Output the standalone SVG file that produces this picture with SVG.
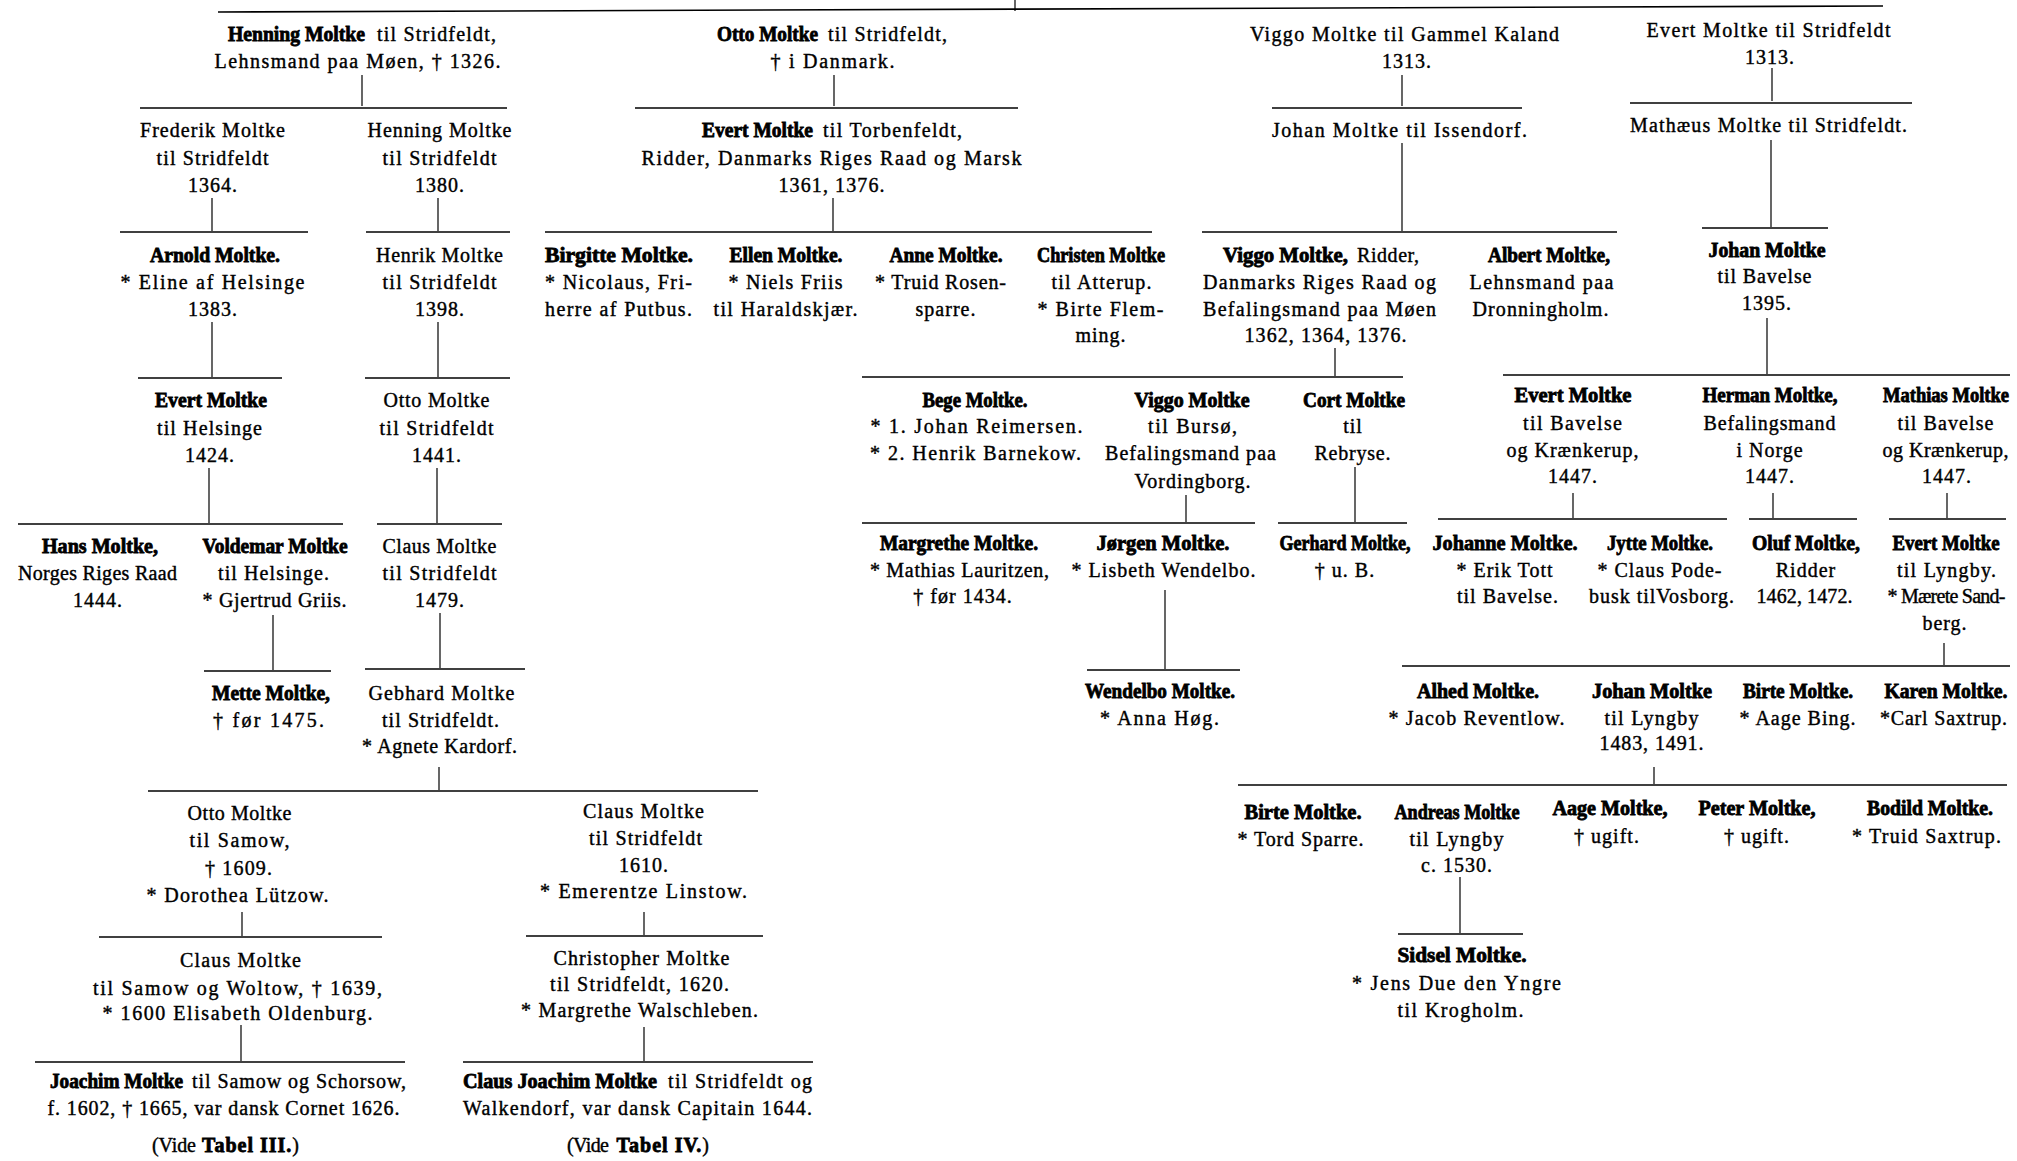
<svg xmlns="http://www.w3.org/2000/svg" width="2017" height="1161" viewBox="0 0 2017 1161">
<style>
text { font-family: "Liberation Serif", "Times New Roman", serif; font-size: 20px; fill: #000; }
.r { letter-spacing: 1px; stroke: #000; stroke-width: 0.4px; }
.b { font-weight: bold; stroke: #000; stroke-width: 0.8px; }
.c { text-anchor: middle; }
.e { text-anchor: end; }
.h { stroke: #000; stroke-width: 1.6; }
.v { stroke: #000; stroke-width: 1.2; }
</style>
<rect width="2017" height="1161" fill="#fff"/>
<g id="connectors">
<line class="h" x1="218" y1="12" x2="1883" y2="6"/><line class="v" x1="1015" y1="0" x2="1015" y2="11"/>
<line class="v" x1="362" y1="75" x2="362" y2="106"/><line class="h" x1="140" y1="108" x2="507" y2="108"/>
<line class="v" x1="834" y1="75" x2="834" y2="106"/><line class="h" x1="635" y1="108" x2="1018" y2="108"/>
<line class="v" x1="1402" y1="75" x2="1402" y2="106"/><line class="h" x1="1272" y1="108" x2="1522" y2="108"/>
<line class="v" x1="1772" y1="68" x2="1772" y2="101"/><line class="h" x1="1630" y1="103" x2="1912" y2="103"/>
<line class="v" x1="212" y1="198" x2="212" y2="231"/><line class="h" x1="120" y1="232" x2="308" y2="232"/>
<line class="v" x1="438" y1="198" x2="438" y2="231"/><line class="h" x1="366" y1="232" x2="510" y2="232"/>
<line class="v" x1="833" y1="198" x2="833" y2="231"/><line class="h" x1="545" y1="232" x2="1152" y2="232"/>
<line class="v" x1="1402" y1="143" x2="1402" y2="231"/><line class="h" x1="1202" y1="232" x2="1617" y2="232"/>
<line class="v" x1="1771" y1="140" x2="1771" y2="227"/><line class="h" x1="1702" y1="228" x2="1828" y2="228"/>
<line class="v" x1="212" y1="322" x2="212" y2="377"/><line class="h" x1="138" y1="378" x2="282" y2="378"/>
<line class="v" x1="438" y1="322" x2="438" y2="377"/><line class="h" x1="365" y1="378" x2="510" y2="378"/>
<line class="v" x1="1335" y1="348" x2="1335" y2="376"/><line class="h" x1="862" y1="377" x2="1403" y2="377"/>
<line class="v" x1="1767" y1="318" x2="1767" y2="374"/><line class="h" x1="1503" y1="375" x2="2010" y2="375"/>
<line class="v" x1="209" y1="468" x2="209" y2="523"/><line class="h" x1="18" y1="524" x2="343" y2="524"/>
<line class="v" x1="437" y1="468" x2="437" y2="523"/><line class="h" x1="377" y1="524" x2="502" y2="524"/>
<line class="v" x1="1186" y1="495" x2="1186" y2="522"/><line class="h" x1="862" y1="523" x2="1255" y2="523"/>
<line class="v" x1="1355" y1="467" x2="1355" y2="522"/><line class="h" x1="1278" y1="523" x2="1407" y2="523"/>
<line class="v" x1="1573" y1="493" x2="1573" y2="518"/><line class="h" x1="1438" y1="519" x2="1727" y2="519"/>
<line class="v" x1="1773" y1="493" x2="1773" y2="518"/><line class="h" x1="1749" y1="519" x2="1857" y2="519"/>
<line class="v" x1="1947" y1="493" x2="1947" y2="518"/><line class="h" x1="1889" y1="519" x2="2006" y2="519"/>
<line class="v" x1="273" y1="615" x2="273" y2="670"/><line class="h" x1="204" y1="671" x2="331" y2="671"/>
<line class="v" x1="440" y1="613" x2="440" y2="668"/><line class="h" x1="365" y1="669" x2="525" y2="669"/>
<line class="v" x1="1165" y1="590" x2="1165" y2="669"/><line class="h" x1="1087" y1="670" x2="1240" y2="670"/>
<line class="v" x1="1944" y1="643" x2="1944" y2="665"/><line class="h" x1="1402" y1="666" x2="2010" y2="666"/>
<line class="v" x1="439" y1="767" x2="439" y2="790"/><line class="h" x1="148" y1="791" x2="758" y2="791"/>
<line class="v" x1="1654" y1="767" x2="1654" y2="784"/><line class="h" x1="1238" y1="785" x2="2007" y2="785"/>
<line class="v" x1="242" y1="912" x2="242" y2="936"/><line class="h" x1="99" y1="937" x2="382" y2="937"/>
<line class="v" x1="644" y1="912" x2="644" y2="935"/><line class="h" x1="526" y1="936" x2="763" y2="936"/>
<line class="v" x1="1460" y1="877" x2="1460" y2="933"/><line class="h" x1="1398" y1="934" x2="1523" y2="934"/>
<line class="v" x1="241" y1="1025" x2="241" y2="1061"/><line class="h" x1="35" y1="1062" x2="405" y2="1062"/>
<line class="v" x1="644" y1="1027" x2="644" y2="1061"/><line class="h" x1="463" y1="1062" x2="813" y2="1062"/>
</g>

<g id="n-henning-1326">
<text class="b" x="228" y="41" textLength="137" lengthAdjust="spacingAndGlyphs">Henning Moltke</text>
<text class="r e" x="497" y="41" textLength="120">til Stridfeldt,</text>
<text class="r c" x="358" y="68" textLength="287">Lehnsmand paa Møen, † 1326.</text>
</g>
<g id="n-otto-danmark">
<text class="b" x="717" y="41" textLength="101" lengthAdjust="spacingAndGlyphs">Otto Moltke</text>
<text class="r e" x="948" y="41" textLength="120">til Stridfeldt,</text>
<text class="r c" x="833" y="68" textLength="125">† i Danmark.</text>
</g>
<g id="n-viggo-kaland">
<text class="r c" x="1405" y="41" textLength="310">Viggo Moltke til Gammel Kaland</text>
<text class="r c" x="1407" y="68">1313.</text>
</g>
<g id="n-evert-1313">
<text class="r c" x="1769" y="37" textLength="245">Evert Moltke til Stridfeldt</text>
<text class="r c" x="1770" y="64">1313.</text>
</g>

<g id="n-frederik">
<text class="r c" x="213" y="137" textLength="146">Frederik Moltke</text>
<text class="r c" x="213" y="165" textLength="113">til Stridfeldt</text>
<text class="r c" x="213" y="192">1364.</text>
</g>
<g id="n-henning-1380">
<text class="r c" x="440" y="137" textLength="145">Henning Moltke</text>
<text class="r c" x="440" y="165" textLength="115">til Stridfeldt</text>
<text class="r c" x="440" y="192">1380.</text>
</g>
<g id="n-evert-torbenfeldt">
<text class="b" x="702" y="137" textLength="111" lengthAdjust="spacingAndGlyphs">Evert Moltke</text>
<text class="r e" x="963" y="137" textLength="140">til Torbenfeldt,</text>
<text class="r c" x="832" y="165" textLength="381">Ridder, Danmarks Riges Raad og Marsk</text>
<text class="r c" x="832" y="192" textLength="107">1361, 1376.</text>
</g>
<g id="n-johan-issendorf">
<text class="r c" x="1400" y="137" textLength="256">Johan Moltke til Issendorf.</text>
</g>
<g id="n-mathaeus">
<text class="r c" x="1769" y="132" textLength="278">Mathæus Moltke til Stridfeldt.</text>
</g>

<g id="n-arnold">
<text class="b c" x="215" y="262" textLength="130" lengthAdjust="spacingAndGlyphs">Arnold Moltke.</text>
<text class="r c" x="213" y="289" textLength="185">* Eline af Helsinge</text>
<text class="r c" x="213" y="316">1383.</text>
</g>
<g id="n-henrik">
<text class="r c" x="440" y="262" textLength="128">Henrik Moltke</text>
<text class="r c" x="440" y="289" textLength="115">til Stridfeldt</text>
<text class="r c" x="440" y="316">1398.</text>
</g>
<g id="n-birgitte">
<text class="b c" x="619" y="262" textLength="148" lengthAdjust="spacingAndGlyphs">Birgitte Moltke.</text>
<text class="r c" x="619" y="289" textLength="148">* Nicolaus, Fri-</text>
<text class="r c" x="619" y="316" textLength="148">herre af Putbus.</text>
</g>
<g id="n-ellen">
<text class="b c" x="786" y="262" textLength="113" lengthAdjust="spacingAndGlyphs">Ellen Moltke.</text>
<text class="r c" x="786" y="289" textLength="115">* Niels Friis</text>
<text class="r c" x="786" y="316" textLength="145">til Haraldskjær.</text>
</g>
<g id="n-anne">
<text class="b c" x="946" y="262" textLength="113" lengthAdjust="spacingAndGlyphs">Anne Moltke.</text>
<text class="r c" x="941" y="289" textLength="132">* Truid Rosen-</text>
<text class="r c" x="946" y="316">sparre.</text>
</g>
<g id="n-christen">
<text class="b c" x="1101" y="262" textLength="128" lengthAdjust="spacingAndGlyphs">Christen Moltke</text>
<text class="r c" x="1102" y="289" textLength="101">til Atterup.</text>
<text class="r c" x="1101" y="316" textLength="127">* Birte Flem-</text>
<text class="r c" x="1101" y="342">ming.</text>
</g>
<g id="n-viggo-ridder">
<text class="b" x="1223" y="262" textLength="125" lengthAdjust="spacingAndGlyphs">Viggo Moltke,</text>
<text class="r e" x="1420" y="262" textLength="63">Ridder,</text>
<text class="r c" x="1320" y="289" textLength="234">Danmarks Riges Raad og</text>
<text class="r c" x="1320" y="316" textLength="234">Befalingsmand paa Møen</text>
<text class="r c" x="1326" y="342" textLength="163">1362, 1364, 1376.</text>
</g>
<g id="n-albert">
<text class="b c" x="1549" y="262" textLength="122" lengthAdjust="spacingAndGlyphs">Albert Moltke,</text>
<text class="r c" x="1542" y="289" textLength="145">Lehnsmand paa</text>
<text class="r c" x="1541" y="316" textLength="137">Dronningholm.</text>
</g>
<g id="n-johan-bavelse">
<text class="b c" x="1767" y="257" textLength="117" lengthAdjust="spacingAndGlyphs">Johan Moltke</text>
<text class="r c" x="1765" y="283" textLength="95">til Bavelse</text>
<text class="r c" x="1767" y="310">1395.</text>
</g>

<g id="n-evert-helsinge">
<text class="b c" x="211" y="407" textLength="112" lengthAdjust="spacingAndGlyphs">Evert Moltke</text>
<text class="r c" x="210" y="435" textLength="106">til Helsinge</text>
<text class="r c" x="210" y="462">1424.</text>
</g>
<g id="n-otto-1441">
<text class="r c" x="437" y="407" textLength="107">Otto Moltke</text>
<text class="r c" x="437" y="435" textLength="115">til Stridfeldt</text>
<text class="r c" x="437" y="462">1441.</text>
</g>
<g id="n-bege">
<text class="b c" x="975" y="407" textLength="105" lengthAdjust="spacingAndGlyphs">Bege Moltke.</text>
<text class="r c" x="977" y="433" textLength="213">* 1. Johan Reimersen.</text>
<text class="r c" x="976" y="460" textLength="212">* 2. Henrik Barnekow.</text>
</g>
<g id="n-viggo-burso">
<text class="b c" x="1192" y="407" textLength="115" lengthAdjust="spacingAndGlyphs">Viggo Moltke</text>
<text class="r c" x="1193" y="433" textLength="90">til Bursø,</text>
<text class="r c" x="1191" y="460" textLength="172">Befalingsmand paa</text>
<text class="r c" x="1193" y="488" textLength="117">Vordingborg.</text>
</g>
<g id="n-cort">
<text class="b c" x="1354" y="407" textLength="102" lengthAdjust="spacingAndGlyphs">Cort Moltke</text>
<text class="r c" x="1353" y="433">til</text>
<text class="r c" x="1353" y="460" textLength="77">Rebryse.</text>
</g>
<g id="n-evert-bavelse">
<text class="b c" x="1573" y="402" textLength="117" lengthAdjust="spacingAndGlyphs">Evert Moltke</text>
<text class="r c" x="1573" y="430" textLength="100">til Bavelse</text>
<text class="r c" x="1573" y="457" textLength="133">og Krænkerup,</text>
<text class="r c" x="1573" y="483">1447.</text>
</g>
<g id="n-herman">
<text class="b c" x="1770" y="402" textLength="135" lengthAdjust="spacingAndGlyphs">Herman Moltke,</text>
<text class="r c" x="1770" y="430" textLength="133">Befalingsmand</text>
<text class="r c" x="1770" y="457">i Norge</text>
<text class="r c" x="1770" y="483">1447.</text>
</g>
<g id="n-mathias">
<text class="b c" x="1946" y="402" textLength="126" lengthAdjust="spacingAndGlyphs">Mathias Moltke</text>
<text class="r c" x="1946" y="430" textLength="97">til Bavelse</text>
<text class="r c" x="1946" y="457" textLength="127">og Krænkerup,</text>
<text class="r c" x="1947" y="483">1447.</text>
</g>

<g id="n-hans">
<text class="b c" x="100" y="553" textLength="116" lengthAdjust="spacingAndGlyphs">Hans Moltke,</text>
<text class="r c" x="98" y="580" textLength="160">Norges Riges Raad</text>
<text class="r c" x="98" y="607">1444.</text>
</g>
<g id="n-voldemar">
<text class="b c" x="275" y="553" textLength="145" lengthAdjust="spacingAndGlyphs">Voldemar Moltke</text>
<text class="r c" x="274" y="580" textLength="112">til Helsinge.</text>
<text class="r c" x="275" y="607" textLength="145">* Gjertrud Griis.</text>
</g>
<g id="n-claus-1479">
<text class="r c" x="440" y="553" textLength="115">Claus Moltke</text>
<text class="r c" x="440" y="580" textLength="115">til Stridfeldt</text>
<text class="r c" x="440" y="607">1479.</text>
</g>
<g id="n-margrethe">
<text class="b c" x="959" y="550" textLength="158" lengthAdjust="spacingAndGlyphs">Margrethe Moltke.</text>
<text class="r c" x="960" y="577" textLength="180">* Mathias Lauritzen,</text>
<text class="r c" x="963" y="603">† før 1434.</text>
</g>
<g id="n-jorgen">
<text class="b c" x="1163" y="550" textLength="133" lengthAdjust="spacingAndGlyphs">Jørgen Moltke.</text>
<text class="r c" x="1164" y="577" textLength="185">* Lisbeth Wendelbo.</text>
</g>
<g id="n-gerhard">
<text class="b c" x="1345" y="550" textLength="131" lengthAdjust="spacingAndGlyphs">Gerhard Moltke,</text>
<text class="r c" x="1345" y="577">† u. B.</text>
</g>
<g id="n-johanne">
<text class="b c" x="1505" y="550" textLength="145" lengthAdjust="spacingAndGlyphs">Johanne Moltke.</text>
<text class="r c" x="1505" y="577">* Erik Tott</text>
<text class="r c" x="1508" y="603">til Bavelse.</text>
</g>
<g id="n-jytte">
<text class="b c" x="1660" y="550" textLength="106" lengthAdjust="spacingAndGlyphs">Jytte Moltke.</text>
<text class="r c" x="1660" y="577" textLength="125">* Claus Pode-</text>
<text class="r c" x="1662" y="603" textLength="146">busk tilVosborg.</text>
</g>
<g id="n-oluf">
<text class="b c" x="1806" y="550" textLength="108" lengthAdjust="spacingAndGlyphs">Oluf Moltke,</text>
<text class="r c" x="1806" y="577">Ridder</text>
<text class="r c" x="1805" y="603" textLength="97">1462, 1472.</text>
</g>
<g id="n-evert-lyngby">
<text class="b c" x="1946" y="550" textLength="107" lengthAdjust="spacingAndGlyphs">Evert Moltke</text>
<text class="r c" x="1947" y="577" textLength="100">til Lyngby.</text>
<text class="r c" x="1947" y="603" textLength="119">* Mærete Sand-</text>
<text class="r c" x="1945" y="630">berg.</text>
</g>

<g id="n-mette">
<text class="b c" x="271" y="700" textLength="118" lengthAdjust="spacingAndGlyphs">Mette Moltke,</text>
<text class="r c" x="269" y="727" textLength="112">† før 1475.</text>
</g>
<g id="n-gebhard">
<text class="r c" x="442" y="700" textLength="147">Gebhard Moltke</text>
<text class="r c" x="441" y="727" textLength="118">til Stridfeldt.</text>
<text class="r c" x="440" y="753" textLength="156">* Agnete Kardorf.</text>
</g>
<g id="n-wendelbo">
<text class="b c" x="1160" y="698" textLength="150" lengthAdjust="spacingAndGlyphs">Wendelbo Moltke.</text>
<text class="r c" x="1160" y="725" textLength="120">* Anna Høg.</text>
</g>
<g id="n-alhed">
<text class="b c" x="1478" y="698" textLength="122" lengthAdjust="spacingAndGlyphs">Alhed Moltke.</text>
<text class="r c" x="1477" y="725" textLength="177">* Jacob Reventlow.</text>
</g>
<g id="n-johan-lyngby">
<text class="b c" x="1652" y="698" textLength="120" lengthAdjust="spacingAndGlyphs">Johan Moltke</text>
<text class="r c" x="1652" y="725" textLength="95">til Lyngby</text>
<text class="r c" x="1652" y="750" textLength="105">1483, 1491.</text>
</g>
<g id="n-birte-bing">
<text class="b c" x="1798" y="698" textLength="110" lengthAdjust="spacingAndGlyphs">Birte Moltke.</text>
<text class="r c" x="1798" y="725" textLength="117">* Aage Bing.</text>
</g>
<g id="n-karen">
<text class="b c" x="1946" y="698" textLength="123" lengthAdjust="spacingAndGlyphs">Karen Moltke.</text>
<text class="r c" x="1944" y="725" textLength="128">*Carl Saxtrup.</text>
</g>

<g id="n-otto-samow">
<text class="r c" x="240" y="820" textLength="105">Otto Moltke</text>
<text class="r c" x="240" y="847" textLength="101">til Samow,</text>
<text class="r c" x="239" y="875" textLength="68">† 1609.</text>
<text class="r c" x="238" y="902" textLength="183">* Dorothea Lützow.</text>
</g>
<g id="n-claus-1610">
<text class="r c" x="644" y="818" textLength="122">Claus Moltke</text>
<text class="r c" x="646" y="845" textLength="114">til Stridfeldt</text>
<text class="r c" x="644" y="872">1610.</text>
<text class="r c" x="644" y="898" textLength="208">* Emerentze Linstow.</text>
</g>
<g id="n-birte-sparre">
<text class="b c" x="1303" y="819" textLength="117" lengthAdjust="spacingAndGlyphs">Birte Moltke.</text>
<text class="r c" x="1301" y="846" textLength="127">* Tord Sparre.</text>
</g>
<g id="n-andreas">
<text class="b c" x="1457" y="819" textLength="125" lengthAdjust="spacingAndGlyphs">Andreas Moltke</text>
<text class="r c" x="1457" y="846" textLength="95">til Lyngby</text>
<text class="r c" x="1457" y="872">c. 1530.</text>
</g>
<g id="n-aage">
<text class="b c" x="1610" y="815" textLength="115" lengthAdjust="spacingAndGlyphs">Aage Moltke,</text>
<text class="r c" x="1607" y="843">† ugift.</text>
</g>
<g id="n-peter">
<text class="b c" x="1757" y="815" textLength="117" lengthAdjust="spacingAndGlyphs">Peter Moltke,</text>
<text class="r c" x="1757" y="843">† ugift.</text>
</g>
<g id="n-bodild">
<text class="b c" x="1930" y="815" textLength="126" lengthAdjust="spacingAndGlyphs">Bodild Moltke.</text>
<text class="r c" x="1927" y="843" textLength="150">* Truid Saxtrup.</text>
</g>

<g id="n-claus-woltow">
<text class="r c" x="241" y="967" textLength="122">Claus Moltke</text>
<text class="r c" x="238" y="995" textLength="290">til Samow og Woltow, † 1639,</text>
<text class="r c" x="238" y="1020" textLength="271">* 1600 Elisabeth Oldenburg.</text>
</g>
<g id="n-christopher">
<text class="r c" x="642" y="965" textLength="177">Christopher Moltke</text>
<text class="r c" x="640" y="991" textLength="180">til Stridfeldt, 1620.</text>
<text class="r c" x="640" y="1017" textLength="238">* Margrethe Walschleben.</text>
</g>
<g id="n-sidsel">
<text class="b c" x="1462" y="962" textLength="129" lengthAdjust="spacingAndGlyphs">Sidsel Moltke.</text>
<text class="r c" x="1457" y="990" textLength="210">* Jens Due den Yngre</text>
<text class="r c" x="1461" y="1017" textLength="127">til Krogholm.</text>
</g>

<g id="n-joachim">
<text class="b" x="50" y="1088" textLength="133" lengthAdjust="spacingAndGlyphs">Joachim Moltke</text>
<text class="r e" x="407" y="1088" textLength="215">til Samow og Schorsow,</text>
<text class="r c" x="224" y="1115" textLength="353">f. 1602, † 1665, var dansk Cornet 1626.</text>
<text class="r" x="152" y="1152" textLength="45">(Vide</text>
<text class="r e" x="300" y="1152"><tspan class="b">Tabel III.</tspan>)</text>
</g>
<g id="n-claus-joachim">
<text class="b" x="463" y="1088" textLength="194" lengthAdjust="spacingAndGlyphs">Claus Joachim Moltke</text>
<text class="r e" x="813" y="1088" textLength="145">til Stridfeldt og</text>
<text class="r c" x="638" y="1115" textLength="350">Walkendorf, var dansk Capitain 1644.</text>
<text class="r" x="567" y="1152" textLength="43">(Vide</text>
<text class="r e" x="710" y="1152"><tspan class="b">Tabel IV.</tspan>)</text>
</g>
</svg>
